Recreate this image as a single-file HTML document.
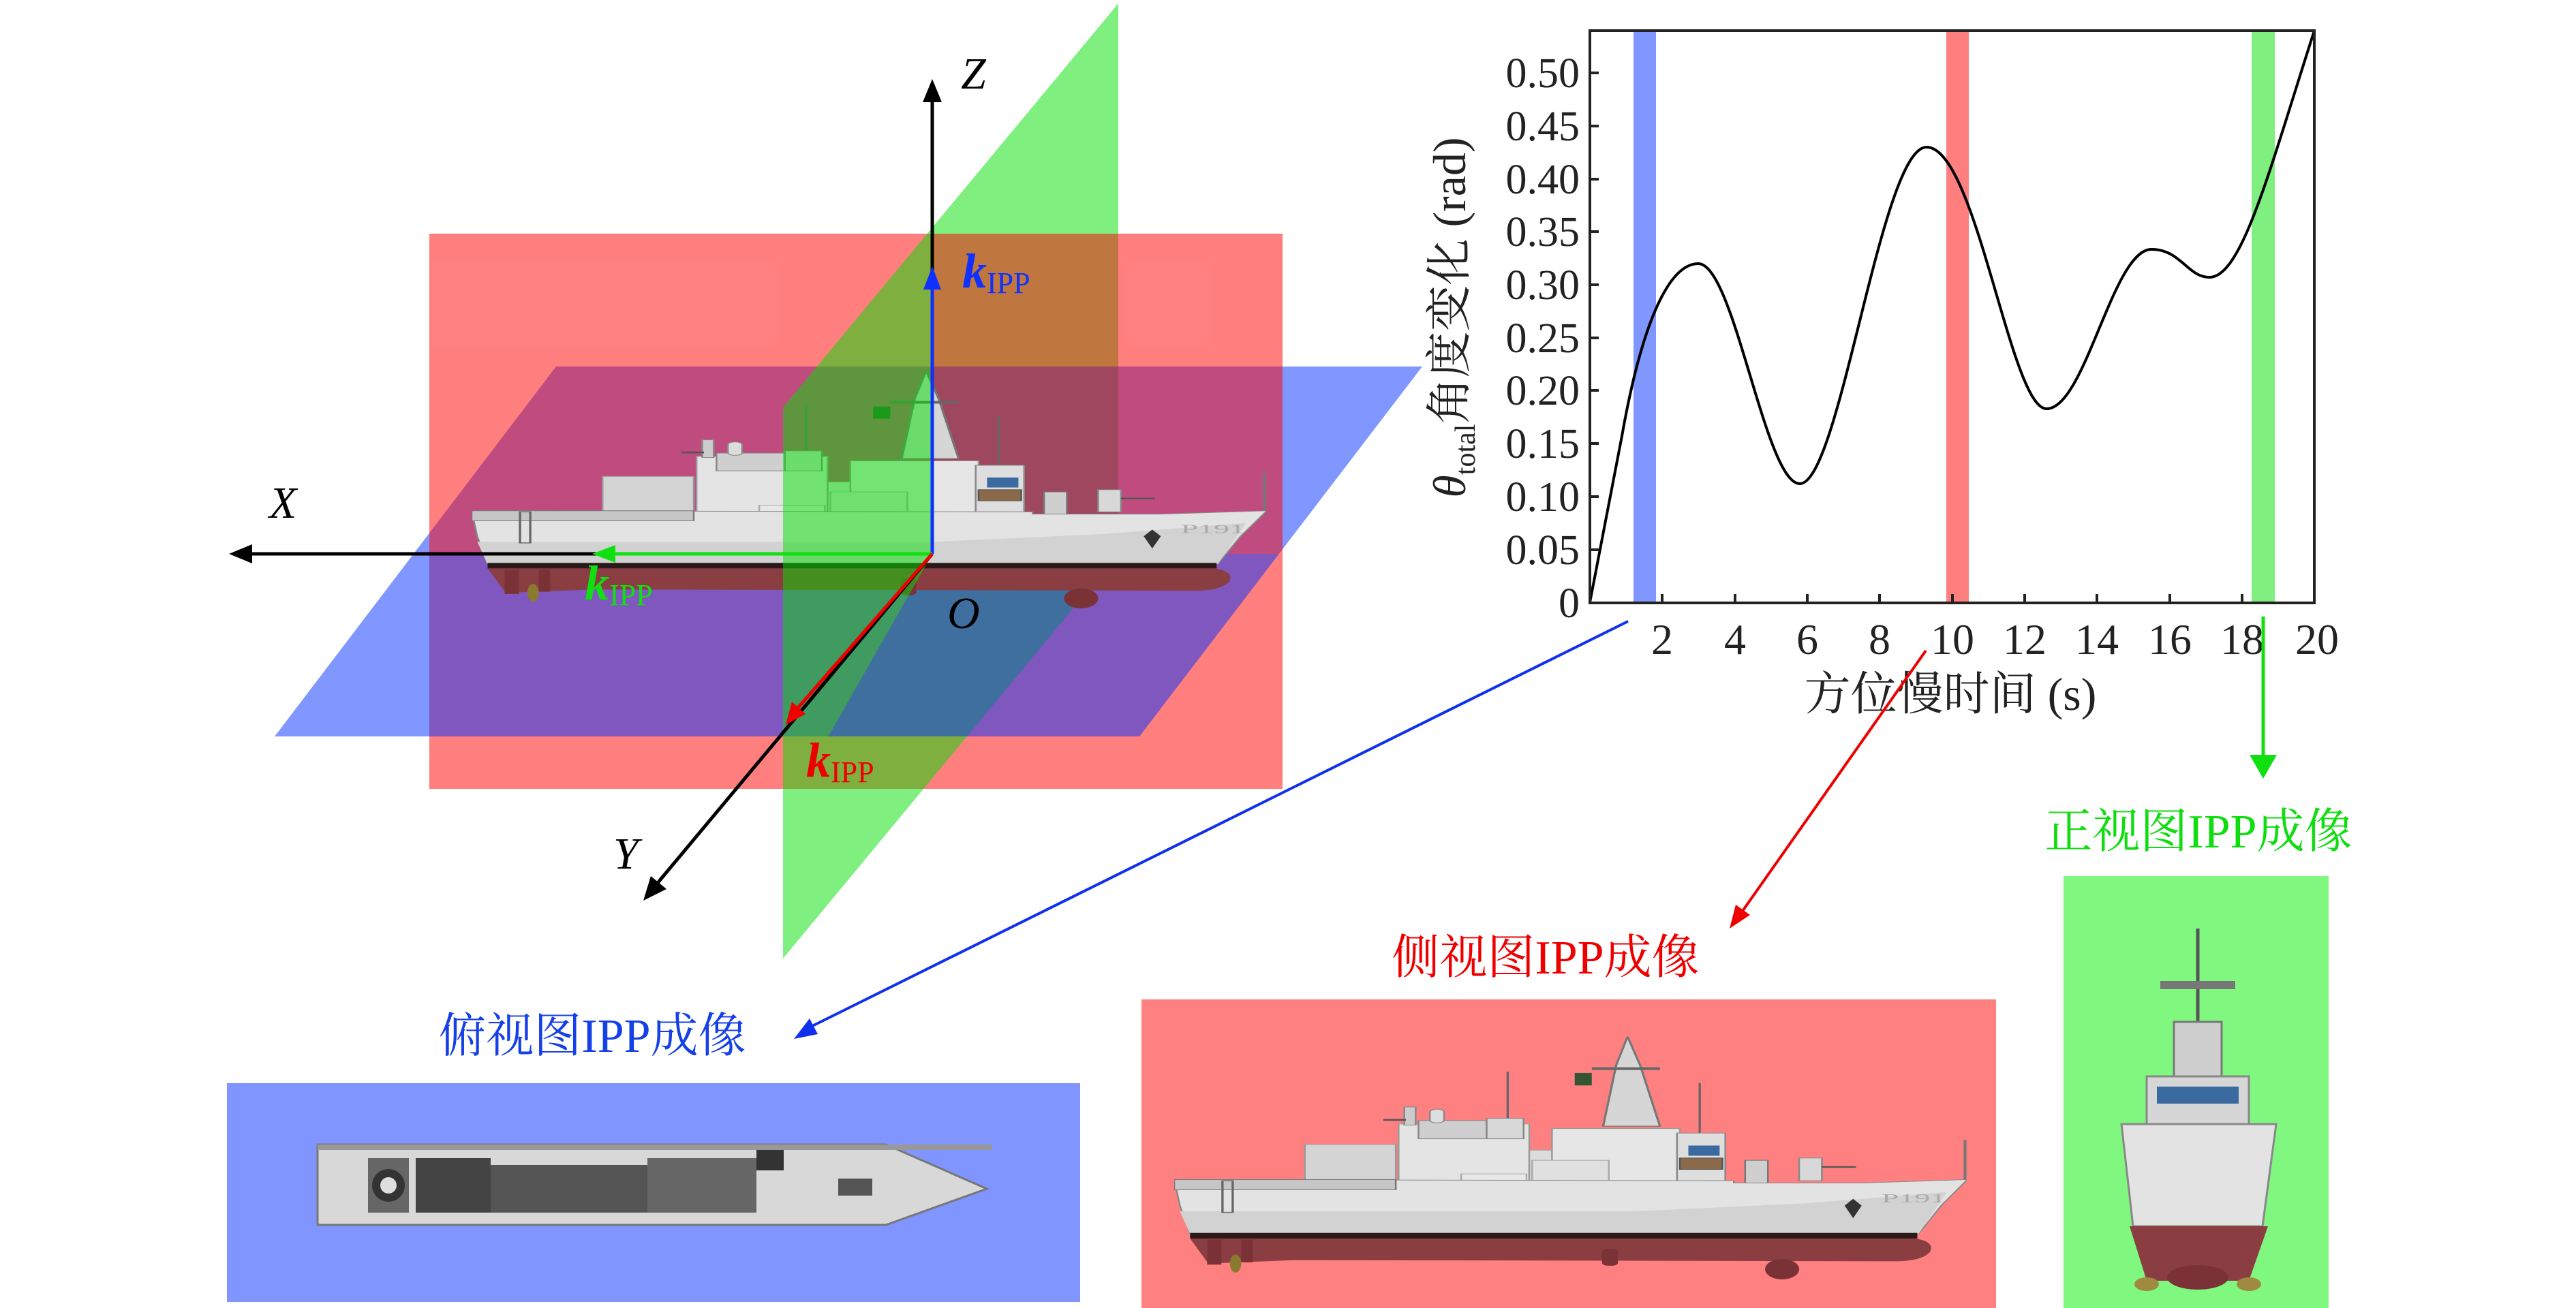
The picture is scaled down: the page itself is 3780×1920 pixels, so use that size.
<!DOCTYPE html>
<html><head><meta charset="utf-8"><style>
html,body{margin:0;padding:0;background:#fff;}
svg{display:block;}
text{font-family:"Liberation Serif","Noto Serif CJK SC",serif;}
.cjk{font-family:"Liberation Serif","Noto Serif CJK SC","Noto Sans CJK SC",serif;}
</style></head><body>
<svg width="3780" height="1920" viewBox="0 0 3780 1920" xmlns="http://www.w3.org/2000/svg">
<defs>
  <symbol id="ship" viewBox="90 210 1395 1075" preserveAspectRatio="none">
    <polygon points="845,610 868,340 888,215 910,340 945,610" fill="#d6d6d6" stroke="#777" stroke-width="4"/>
    <rect x="825" y="350" width="120" height="12" fill="#666"/>
    <rect x="795" y="375" width="30" height="55" fill="#335533"/>
    <line x1="677" y1="370" x2="677" y2="600" stroke="#666" stroke-width="4"/>
    <line x1="1015" y1="420" x2="1015" y2="640" stroke="#666" stroke-width="4"/>
    <rect x="485" y="600" width="230" height="250" fill="#e4e4e4" stroke="#999" stroke-width="3"/>
    <rect x="520" y="585" width="120" height="80" fill="#cfcfcf" stroke="#888" stroke-width="3"/>
    <rect x="640" y="575" width="65" height="90" fill="#d8d8d8" stroke="#888" stroke-width="3"/>
    <rect x="540" y="535" width="25" height="60" rx="12" fill="#ddd" stroke="#888" stroke-width="3"/>
    <rect x="495" y="525" width="20" height="80" fill="#ccc" stroke="#888" stroke-width="3"/>
    <rect x="458" y="578" width="40" height="8" fill="#555"/>
    <rect x="320" y="690" width="160" height="160" fill="#d4d4d4" stroke="#999" stroke-width="3"/>
    <rect x="715" y="715" width="45" height="135" fill="#dcdcdc" stroke="#999" stroke-width="3"/>
    <rect x="755" y="620" width="225" height="230" fill="#e6e6e6" stroke="#999" stroke-width="3"/>
    <rect x="720" y="760" width="135" height="130" fill="#e0e0e0" stroke="#aaa" stroke-width="3"/>
    <rect x="595" y="820" width="115" height="40" fill="#e8e8e8" stroke="#aaa" stroke-width="3"/>
    <rect x="975" y="640" width="85" height="210" fill="#dedede" stroke="#888" stroke-width="3"/>
    <rect x="995" y="695" width="55" height="45" fill="#3a6aa0"/>
    <rect x="980" y="750" width="75" height="50" fill="#8a6a4a" stroke="#555" stroke-width="3"/>
    <rect x="1095" y="760" width="40" height="130" fill="#cfcfcf" stroke="#777" stroke-width="3"/>
    <rect x="1190" y="750" width="40" height="100" fill="#d8d8d8" stroke="#888" stroke-width="3"/>
    <rect x="1230" y="786" width="60" height="7" fill="#555"/>
    <line x1="1482" y1="670" x2="1482" y2="850" stroke="#777" stroke-width="5"/>
    <polygon points="90,845 1075,850 1075,860 1300,860 1486,845 1440,960 1400,1085 118,1085 100,960" fill="#e3e3e3" stroke="#888" stroke-width="3"/>
    <polygon points="100,985 900,985 1200,950 1450,900 1400,1085 118,1085" fill="#d2d2d2"/>
    <rect x="90" y="845" width="390" height="45" fill="#c6c6c6" stroke="#777" stroke-width="3"/>
    <rect x="175" y="850" width="18" height="140" fill="none" stroke="#666" stroke-width="4"/>
    <polygon points="1285,930 1300,960 1285,1015 1270,960" fill="#333"/>
    <text x="1335" y="945" font-size="55" fill="#aaa" font-family="Liberation Sans, sans-serif">P191</text>
    <rect x="118" y="1080" width="1280" height="25" fill="#2a1a1a"/>
    <path d="M118,1105 L1395,1105 Q1430,1120 1420,1165 Q1405,1205 1360,1205 L300,1200 L150,1215 Z" fill="#8a3e42"/>
    <ellipse cx="1160" cy="1240" rx="30" ry="45" fill="#7a3236"/>
    <rect x="843" y="1150" width="28" height="75" rx="12" fill="#7a3236"/>
    <rect x="148" y="1110" width="25" height="110" fill="#7a3236"/>
    <rect x="208" y="1110" width="20" height="100" fill="#7a3236"/>
    <ellipse cx="198" cy="1215" rx="10" ry="40" fill="#8a7a30"/>
  </symbol>
  <clipPath id="topH"><rect x="0" y="0" width="3780" height="813"/></clipPath>
  <clipPath id="botH"><rect x="0" y="813" width="3780" height="1200"/></clipPath>
  <clipPath id="gBackT"><rect x="1368" y="0" width="700" height="813"/></clipPath>
  <clipPath id="gBackB"><polygon points="1368,813 2100,813 2100,1600 920,1600"/></clipPath>
  <clipPath id="gFront"><polygon points="0,0 1368,0 1368,813 920,1600 0,1600"/></clipPath>
</defs>

<g clip-path="url(#gBackT)"><polygon points="1641,5 1149,598 1149,1407 1641,813" fill="#00e000" fill-opacity="0.5"/></g>
<g clip-path="url(#topH)"><polygon points="816,538 2087,538 1672,1081 403,1081" fill="#0030ff" fill-opacity="0.5"/></g>
<rect x="630" y="343" width="1252" height="815" fill="#ff0000" fill-opacity="0.5"/>
<g clip-path="url(#gBackB)"><polygon points="1641,5 1149,598 1149,1407 1641,813" fill="#00e000" fill-opacity="0.5"/></g>
<g clip-path="url(#botH)"><polygon points="816,538 2087,538 1672,1081 403,1081" fill="#0030ff" fill-opacity="0.5"/></g>

<use href="#ship" x="692" y="543" width="1166" height="350"/>

<g clip-path="url(#gFront)"><polygon points="1641,5 1149,598 1149,1407 1641,813" fill="#00e000" fill-opacity="0.5"/></g>

<g stroke="#000" stroke-width="5" fill="none">
  <line x1="1368" y1="813" x2="1368" y2="140"/>
  <line x1="1368" y1="813" x2="360" y2="813"/>
  <line x1="1368" y1="813" x2="960" y2="1302"/>
</g>
<polygon points="1368,116 1354,150 1382,150" fill="#000"/>
<polygon points="336,813 370,799 370,827" fill="#000"/>
<polygon points="944,1322 955,1286 978,1305" fill="#000"/>
<line x1="1368" y1="813" x2="1368" y2="420" stroke="#1030ff" stroke-width="5"/>
<polygon points="1368,391 1355,425 1381,425" fill="#1030ff"/>
<line x1="1368" y1="813" x2="900" y2="813" stroke="#10e010" stroke-width="5"/>
<polygon points="869,813 903,800 903,826" fill="#10e010"/>
<line x1="1368" y1="813" x2="1170" y2="1040" stroke="#ee0000" stroke-width="5"/>
<polygon points="1153,1064 1162,1030 1182,1048" fill="#ee0000"/>

<g font-style="italic" font-size="66">
  <text x="1410" y="130">Z</text>
  <text x="395" y="760">X</text>
  <text x="900" y="1275">Y</text>
  <text x="1390" y="922">O</text>
</g>
<g font-size="72">
  <text x="1412" y="422" fill="#1030ff"><tspan font-weight="bold" font-style="italic">k</tspan><tspan font-size="44" dy="8">IPP</tspan></text>
  <text x="858" y="880" fill="#10e010"><tspan font-weight="bold" font-style="italic">k</tspan><tspan font-size="44" dy="8">IPP</tspan></text>
  <text x="1183" y="1140" fill="#ee0000"><tspan font-weight="bold" font-style="italic">k</tspan><tspan font-size="44" dy="8">IPP</tspan></text>
</g>

<rect x="2397" y="45" width="33" height="840" fill="#0030ff" fill-opacity="0.5"/>
<rect x="2856" y="45" width="33" height="840" fill="#ff0000" fill-opacity="0.5"/>
<rect x="3304" y="45" width="34" height="840" fill="#00e000" fill-opacity="0.5"/>
<path d="M2333,884 L2380,640 C2410,470 2450,387 2492,387 C2545,387 2590,710 2641,710 C2700,710 2760,216 2827,216 C2900,216 2950,600 3003,600 C3060,600 3100,366 3157,366 C3200,366 3210,407 3242,407 C3290,407 3330,250 3396,45" fill="none" stroke="#000" stroke-width="4"/>
<rect x="2333" y="45" width="1063" height="840" fill="none" stroke="#222" stroke-width="4"/>
<g stroke="#222" stroke-width="4">
  <line x1="2333" y1="107" x2="2346" y2="107"/><line x1="2333" y1="185" x2="2346" y2="185"/>
  <line x1="2333" y1="263" x2="2346" y2="263"/><line x1="2333" y1="340" x2="2346" y2="340"/>
  <line x1="2333" y1="418" x2="2346" y2="418"/><line x1="2333" y1="496" x2="2346" y2="496"/>
  <line x1="2333" y1="573" x2="2346" y2="573"/><line x1="2333" y1="651" x2="2346" y2="651"/>
  <line x1="2333" y1="729" x2="2346" y2="729"/><line x1="2333" y1="807" x2="2346" y2="807"/>
  <line x1="2439" y1="885" x2="2439" y2="872"/><line x1="2546" y1="885" x2="2546" y2="872"/>
  <line x1="2652" y1="885" x2="2652" y2="872"/><line x1="2758" y1="885" x2="2758" y2="872"/>
  <line x1="2865" y1="885" x2="2865" y2="872"/><line x1="2971" y1="885" x2="2971" y2="872"/>
  <line x1="3077" y1="885" x2="3077" y2="872"/><line x1="3184" y1="885" x2="3184" y2="872"/>
  <line x1="3290" y1="885" x2="3290" y2="872"/>
</g>
<g font-size="62" fill="#222" text-anchor="end">
  <text x="2318" y="128">0.50</text><text x="2318" y="206">0.45</text>
  <text x="2318" y="284">0.40</text><text x="2318" y="361">0.35</text>
  <text x="2318" y="439">0.30</text><text x="2318" y="517">0.25</text>
  <text x="2318" y="594">0.20</text><text x="2318" y="672">0.15</text>
  <text x="2318" y="750">0.10</text><text x="2318" y="828">0.05</text>
  <text x="2318" y="906">0</text>
</g>
<g font-size="64" fill="#222" text-anchor="middle">
  <text x="2439" y="960">2</text><text x="2546" y="960">4</text><text x="2652" y="960">6</text>
  <text x="2758" y="960">8</text><text x="2865" y="960">10</text><text x="2971" y="960">12</text>
  <text x="3077" y="960">14</text><text x="3184" y="960">16</text><text x="3290" y="960">18</text>
  <text x="3400" y="960">20</text>
</g>
<text class="cjk" x="2862" y="1042" font-size="68" fill="#222" text-anchor="middle">方位慢时间 (s)</text>
<text class="cjk" transform="translate(2150,466) rotate(-90)" font-size="68" fill="#222" text-anchor="middle"><tspan font-style="italic">θ</tspan><tspan font-size="42" dy="14">total</tspan><tspan dy="-14">角度变化 (rad)</tspan></text>

<line x1="2389" y1="912" x2="1190" y2="1507" stroke="#1030ee" stroke-width="4"/>
<polygon points="1165,1525 1188,1495 1200,1518" fill="#1030ee"/>
<line x1="2826" y1="955" x2="2555" y2="1340" stroke="#ee0000" stroke-width="4"/>
<polygon points="2538,1363 2547,1328 2568,1343" fill="#ee0000"/>
<line x1="3321" y1="905" x2="3321" y2="1115" stroke="#10e010" stroke-width="5"/>
<polygon points="3321,1143 3301,1108 3341,1108" fill="#10e010"/>

<rect x="333" y="1590" width="1252" height="321" fill="#8095ff"/>
<rect x="1675" y="1467" width="1254" height="453" fill="#ff8080"/>
<rect x="3028" y="1286" width="389" height="634" fill="#80f880"/>
<text class="cjk" x="869" y="1544" font-size="70" fill="#1540e8" text-anchor="middle">俯视图IPP成像</text>
<text class="cjk" x="2268" y="1429" font-size="70" fill="#ee0000" text-anchor="middle">侧视图IPP成像</text>
<text class="cjk" x="3226" y="1244" font-size="70" fill="#10dd10" text-anchor="middle">正视图IPP成像</text>

<use href="#ship" x="1723" y="1520" width="1163" height="358"/>

<g>
  <polygon points="466,1680 1300,1680 1448,1745 1300,1798 466,1798" fill="#d8d8d8" stroke="#777" stroke-width="3"/>
  <rect x="540" y="1700" width="60" height="80" fill="#666"/>
  <circle cx="570" cy="1740" r="24" fill="#333"/><circle cx="570" cy="1740" r="12" fill="#ddd"/>
  <rect x="610" y="1700" width="110" height="80" fill="#444"/>
  <rect x="720" y="1710" width="230" height="70" fill="#555"/>
  <rect x="950" y="1700" width="160" height="80" fill="#666"/>
  <rect x="1110" y="1688" width="40" height="30" fill="#333"/>
  <rect x="1230" y="1730" width="50" height="25" fill="#555"/>
  <rect x="466" y="1680" width="990" height="8" fill="#999"/>
</g>

<g>
  <line x1="3225" y1="1363" x2="3225" y2="1560" stroke="#555" stroke-width="5"/>
  <rect x="3170" y="1440" width="110" height="12" fill="#777"/>
  <rect x="3190" y="1500" width="70" height="90" fill="#cfcfcf" stroke="#777" stroke-width="3"/>
  <rect x="3150" y="1580" width="150" height="100" fill="#d6d6d6" stroke="#888" stroke-width="3"/>
  <rect x="3165" y="1595" width="120" height="25" fill="#3a6aa0"/>
  <polygon points="3113,1650 3340,1650 3320,1800 3130,1800" fill="#e3e3e3" stroke="#888" stroke-width="3"/>
  <polygon points="3125,1800 3328,1800 3300,1880 3150,1880" fill="#8a3e42"/>
  <ellipse cx="3225" cy="1875" rx="45" ry="18" fill="#7a3236"/>
  <ellipse cx="3150" cy="1885" rx="18" ry="10" fill="#a08a40"/>
  <ellipse cx="3300" cy="1885" rx="18" ry="10" fill="#a08a40"/>
</g>
</svg>
</body></html>
